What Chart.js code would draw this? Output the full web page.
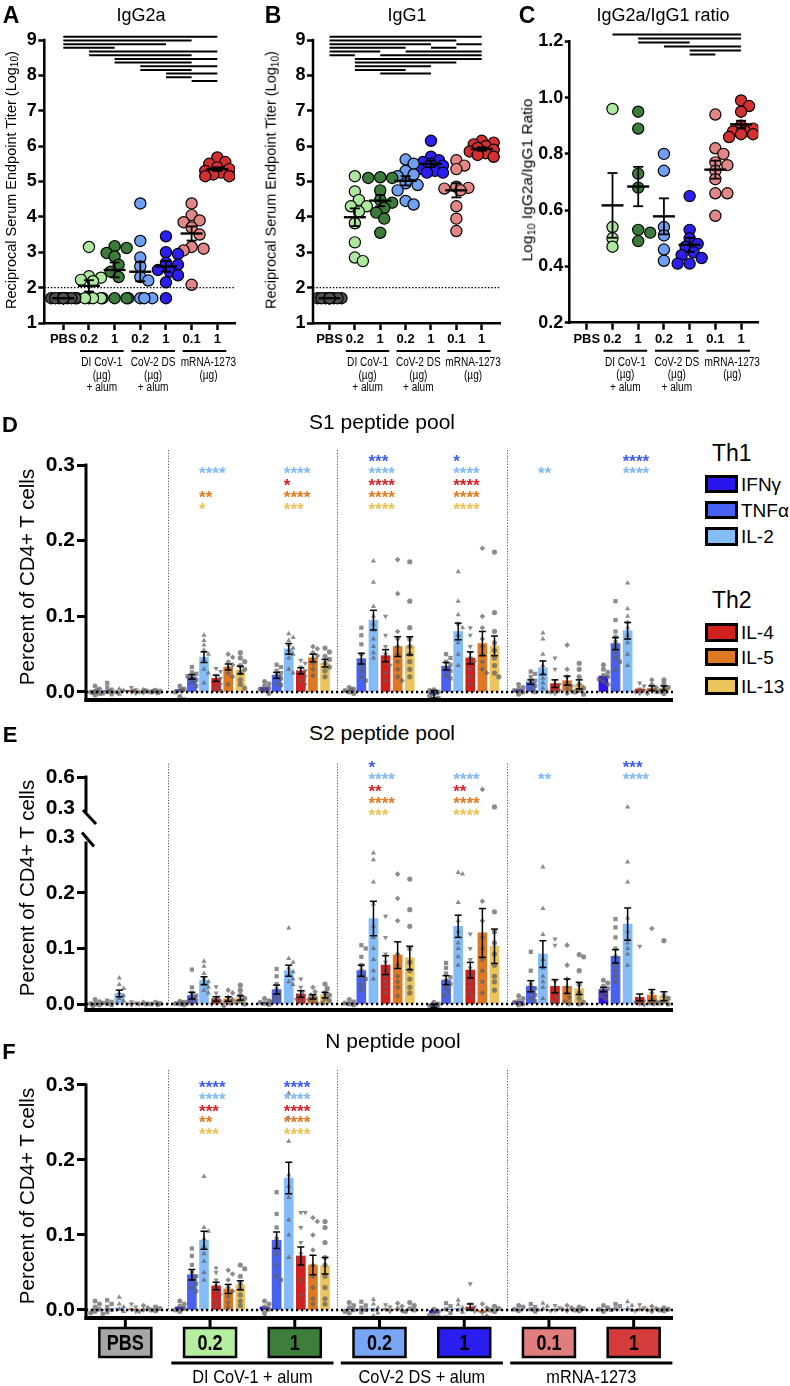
<!DOCTYPE html>
<html><head><meta charset="utf-8">
<script src="https://cdn.jsdelivr.net/npm/chart.js@4.4.0/dist/chart.umd.min.js"></script>
<style>
html,body{margin:0;padding:0;background:#fff}
#root{position:relative;width:790px;height:1386px;overflow:hidden;font-family:"Liberation Sans",Arial,Helvetica,sans-serif;color:#000}
#root canvas{position:absolute}
.t{position:absolute;white-space:nowrap;transform:translate(-50%,-50%);line-height:1}
.l{position:absolute;white-space:nowrap;line-height:1}
.rot{position:absolute;white-space:nowrap;transform:translate(-50%,-50%) rotate(-90deg);line-height:1}
.lg{position:absolute;box-sizing:border-box;width:33px;border:3px solid #000}
sub{font-size:70%;vertical-align:-0.25em}
</style></head>
<body><div id="root">
<canvas id="cA" width="245" height="380" style="left:0;top:20px"></canvas>
<canvas id="cB" width="245" height="380" style="left:268px;top:20px"></canvas>
<canvas id="cC" width="270" height="385" style="left:520px;top:15px"></canvas>
<canvas id="cD" width="700" height="290" style="left:0;top:430px"></canvas>
<canvas id="cEu" width="700" height="89" style="left:0;top:745px"></canvas>
<canvas id="cEl" width="700" height="215" style="left:0;top:815px"></canvas>
<canvas id="cF" width="700" height="336" style="left:0;top:1050px"></canvas>

<div class="t" style="left:11px;top:15px;font-size:23px;font-weight:bold">A</div>
<div class="t" style="left:141px;top:15px;font-size:18px">IgG2a</div>
<div class="t" style="left:273px;top:15px;font-size:23px;font-weight:bold">B</div>
<div class="t" style="left:407px;top:15px;font-size:18px">IgG1</div>
<div class="t" style="left:527px;top:15px;font-size:23px;font-weight:bold">C</div>
<div class="t" style="left:663px;top:15px;font-size:18px">IgG2a/IgG1 ratio</div>
<div class="rot" style="left:12px;top:180px;font-size:14.5px">Reciprocal Serum Endpoint Titer (Log<sub>10</sub>)</div>
<div class="rot" style="left:272px;top:180px;font-size:14.5px">Reciprocal Serum Endpoint Titer (Log<sub>10</sub>)</div>
<div class="rot" style="left:528px;top:180px;font-size:15.5px">Log<sub>10</sub> IgG2a/IgG1 Ratio</div>

<div class="t" style="left:10px;top:425px;font-size:22px;font-weight:bold">D</div>
<div class="t" style="left:382px;top:421px;font-size:21px">S1 peptide pool</div>
<div class="rot" style="left:27px;top:577px;font-size:20.5px">Percent of CD4+ T cells</div>
<div class="t" style="left:10px;top:735px;font-size:22px;font-weight:bold">E</div>
<div class="t" style="left:382px;top:732px;font-size:21px">S2 peptide pool</div>
<div class="rot" style="left:27px;top:888px;font-size:20.5px">Percent of CD4+ T cells</div>
<div class="t" style="left:9px;top:1052px;font-size:22px;font-weight:bold">F</div>
<div class="t" style="left:393px;top:1040px;font-size:21px">N peptide pool</div>
<div class="rot" style="left:27px;top:1196px;font-size:20.5px">Percent of CD4+ T cells</div>

<div class="l" style="left:712px;top:442px;font-size:23px">Th1</div>
<div class="lg" style="left:705px;top:475px;height:18px;background:#2b15ee"></div>
<div class="l" style="left:741px;top:474.5px;font-size:19px">IFNγ</div>
<div class="lg" style="left:705px;top:501px;height:18px;background:#4961f1"></div>
<div class="l" style="left:741px;top:500.5px;font-size:19px">TNFα</div>
<div class="lg" style="left:705px;top:527px;height:19px;background:#84bcf8"></div>
<div class="l" style="left:741px;top:527px;font-size:19px">IL-2</div>
<div class="l" style="left:712px;top:589px;font-size:23px">Th2</div>
<div class="lg" style="left:705px;top:623px;height:19px;background:#d0211f"></div>
<div class="l" style="left:741px;top:623px;font-size:19px">IL-4</div>
<div class="lg" style="left:705px;top:648px;height:18px;background:#df7823"></div>
<div class="l" style="left:741px;top:647.5px;font-size:19px">IL-5</div>
<div class="lg" style="left:705px;top:677px;height:18px;background:#ebc45d"></div>
<div class="l" style="left:741px;top:676.5px;font-size:19px">IL-13</div>
</div>
<script>
// ---------------- data ----------------
const groups = ['PBS','0.2','1','0.2','1','0.1','1'];
const groupPointColors = ['#505050','#aee89e','#3c7b3a','#6e9ff2','#2b1ff0','#e28686','#d43030'];
const groupBoxColors = ['#a6a6a6','#b5ee9e','#3e7e3b','#79a5f5','#2a1df0','#e07d7d','#d63b3b'];
const vaccineShort = [['DI CoV-1','(µg)','+ alum'],['CoV-2 DS','(µg)','+ alum'],['mRNA-1273','(µg)']];
const vaccineLong = ['DI CoV-1 + alum','CoV-2 DS + alum','mRNA-1273'];
const cytokines = ['IFNγ','TNFα','IL-2','IL-4','IL-5','IL-13'];
const cytoColors = ['#2b15ee','#4961f1','#84bcf8','#d0211f','#df7823','#ebc45d'];
const starColors = ['#3f5cf0','#80b9f8','#d4232a','#e07a22','#ebc25a'];

const titerTicks = [1,2,3,4,5,6,7,8,9];
const ratioTicks = [0.2,0.4,0.6,0.8,1.0,1.2];
const pctTicks = [0,0.1,0.2,0.3];
const brokenTicks = [0.3,0.6];

const igg2aPts = [
 [1.7,1.7,1.7,1.7,1.7,1.7,1.7,1.7,1.7,1.7],
 [3.15,2.32,2.28,2.22,2.18,1.7,1.7,1.7,1.7,1.7],
 [3.17,3.12,2.98,2.88,2.65,2.45,2.3,1.7,1.7,1.7],
 [4.38,3.32,2.85,2.6,2.3,2.2,1.7,1.7,1.7,1.7],
 [3.45,3.0,2.95,2.7,2.65,2.5,2.45,2.35,2.15,1.7],
 [4.38,4.05,3.9,3.85,3.7,3.5,3.15,3.1,3.05,2.08],
 [5.68,5.55,5.5,5.4,5.35,5.3,5.25,5.2,5.15,5.15]];
const igg2aMean = [1.7,2.05,2.5,2.45,2.6,3.53,5.35];
const igg2aSem = [0,0.16,0.21,0.27,0.15,0.2,0.05];
const igg2aSig = [[[0,6]],[[0,5]],[[0,4]],[[0,2]],[[1,6]],[[1,5]],[[2,6]],[[2,5]],[[3,6]],[[3,5]],[[4,6]],[[4,5]],[[5,6]]];

const igg1Pts = [
 [1.7,1.7,1.7,1.7,1.7,1.7,1.7,1.7,1.7,1.7],
 [5.15,4.72,4.48,4.3,4.3,4.15,3.82,3.28,2.85,2.75],
 [5.12,5.1,5.1,4.75,4.48,4.4,4.25,4.12,3.95,3.55],
 [5.62,5.5,5.3,5.2,5.15,4.95,4.9,4.75,4.45,4.35],
 [6.15,5.7,5.6,5.55,5.5,5.45,5.35,5.3,5.25,5.25],
 [5.6,5.45,5.35,4.85,4.82,4.8,4.75,4.3,3.95,3.6],
 [6.15,6.1,6.05,6.0,5.95,5.9,5.85,5.8,5.75,5.7]];
const igg1Mean = [1.7,3.99,4.46,5.02,5.5,4.75,5.92];
const igg1Sem = [0,0.25,0.16,0.13,0.09,0.2,0.05];
const igg1Sig = [[[0,6]],[[0,5]],[[0,4],[5,6]],[[0,3],[4,5]],[[0,2],[3,6]],[[0,1],[2,6]],[[1,6]],[[1,5]],[[1,4]],[[1,3]],[[2,4]]];

const ratioPts = [
 [],
 [0.96,0.54,0.50,0.47],
 [0.95,0.89,0.73,0.68,0.53,0.52,0.49],
 [0.80,0.74,0.54,0.51,0.46,0.42],
 [0.65,0.53,0.50,0.48,0.47,0.45,0.44,0.43,0.41,0.41],
 [0.94,0.82,0.80,0.77,0.76,0.74,0.71,0.66,0.66,0.58],
 [0.99,0.97,0.95,0.90,0.89,0.88,0.88,0.87,0.87,0.86]];
const ratioMean = [null,0.617,0.684,0.578,0.477,0.744,0.905];
const ratioSem = [null,0.115,0.07,0.064,0.025,0.032,0.013];
const ratioSig = [[[1,6]],[[2,6]],[[2,4]],[[3,6]],[[4,6]],[[4,5]]];

// S1 (D): order per group: IFNγ, TNFα, IL-2, IL-4, IL-5, IL-13
const s1Mean = [
 0.001,0.002,0.001,0.002,0.001,0.001,
 0.003,0.020,0.046,0.018,0.033,0.029,
 0.006,0.022,0.057,0.028,0.045,0.038,
 0.002,0.044,0.095,0.048,0.060,0.061,
 -0.003,0.034,0.080,0.045,0.064,0.061,
 0.003,0.013,0.032,0.011,0.015,0.010,
 0.021,0.064,0.081,0.004,0.005,0.005];
const s1Sem = [
 0.001,0.001,0.001,0.001,0.001,0.001,
 0.001,0.003,0.007,0.004,0.004,0.005,
 0.002,0.004,0.007,0.004,0.005,0.005,
 0.001,0.007,0.013,0.008,0.013,0.012,
 0.005,0.005,0.011,0.008,0.016,0.013,
 0.002,0.003,0.009,0.005,0.006,0.006,
 0.002,0.008,0.011,0.002,0.003,0.003];
const s1Pts = [
 [0.008,0.004,0.001,0,-0.002,-0.004,0.002,-0.001],[0.012,0.006,0.003,0,-0.002,-0.003,0.001],[0.004,0.002,0,-0.003,0.001,-0.001],[0.006,0.003,0.001,0,-0.002,0.002],[0.003,0.001,0,-0.001,0.002],[0.002,0.001,0,-0.001,0.001],
 [0.008,0.004,0.002,0,-0.006,-0.01,0.003],[0.033,0.026,0.024,0.021,0.019,0.016,0.013,0.008],[0.075,0.068,0.062,0.055,0.05,0.043,0.03,0.025,0.012],[0.031,0.027,0.022,0.018,0.014,0.01,0.005,0.002],[0.05,0.046,0.04,0.036,0.032,0.025,0.02,0.01],[0.052,0.045,0.04,0.035,0.03,0.025,0.016,0.01,0.005],
 [0.014,0.011,0.008,0.005,0.002,-0.002,0.004],[0.036,0.033,0.028,0.025,0.022,0.018,0.012,0.009],[0.077,0.072,0.068,0.062,0.058,0.055,0.05,0.045,0.03,0.025],[0.042,0.038,0.033,0.028,0.025,0.02,0.015,0.01],[0.06,0.057,0.052,0.048,0.044,0.038,0.03,0.022],[0.058,0.053,0.047,0.043,0.038,0.033,0.028,0.02],
 [0.006,0.004,0.002,0,-0.002,0.003],[0.085,0.075,0.063,0.05,0.042,0.035,0.028,0.02,0.015],[0.173,0.145,0.113,0.1,0.09,0.082,0.07,0.06,0.052,0.045],[0.1,0.075,0.06,0.05,0.04,0.035,0.025,0.015],[0.175,0.13,0.08,0.07,0.06,0.05,0.04,0.03,0.02,0.015],[0.172,0.12,0.085,0.07,0.06,0.05,0.04,0.03,0.02],
 [0.003,0,-0.003,-0.005,-0.008,-0.01,0.002],[0.05,0.045,0.04,0.036,0.032,0.028,0.022,0.018],[0.159,0.12,0.102,0.09,0.085,0.075,0.065,0.05,0.035],[0.085,0.075,0.06,0.052,0.045,0.04,0.03,0.02,0.01],[0.19,0.1,0.085,0.07,0.06,0.05,0.04,0.03,0.025],[0.185,0.105,0.08,0.065,0.055,0.045,0.035,0.025,0.02],
 [0.01,0.006,0.004,0.002,0,-0.003],[0.027,0.024,0.02,0.015,0.012,0.008,0.004,0],[0.078,0.07,0.05,0.035,0.025,0.018,0.012,0.005,0],[0.045,0.03,0.015,0.01,0.005,0.002,0,-0.002],[0.062,0.03,0.02,0.012,0.008,0.005,0.002,-0.002],[0.038,0.03,0.02,0.01,0.005,0.002,0,-0.003],
 [0.036,0.03,0.026,0.022,0.02,0.017,0.014,0.01],[0.12,0.095,0.08,0.073,0.066,0.06,0.052,0.045,0.04,0.03],[0.144,0.11,0.1,0.092,0.085,0.075,0.065,0.05,0.035],[0.012,0.008,0.004,0.002,0,-0.002],[0.016,0.01,0.006,0.003,0,-0.002],[0.016,0.01,0.006,0.004,0.001,-0.002]];
const s1Stars = [[1,1,'****'],[1,3,'**'],[1,4,'*'],[2,1,'****'],[2,2,'*'],[2,3,'****'],[2,4,'***'],[3,0,'***'],[3,1,'****'],[3,2,'****'],[3,3,'****'],[3,4,'****'],[4,0,'*'],[4,1,'****'],[4,2,'****'],[4,3,'****'],[4,4,'****'],[5,1,'**'],[6,0,'****'],[6,1,'****']];

// S2 (E)
const s2Mean = [
 0.001,0.001,0.019,0.001,0.001,0.001,
 0.002,0.015,0.042,0.009,0.009,0.011,
 0.003,0.026,0.060,0.018,0.013,0.016,
 0.002,0.060,0.154,0.070,0.088,0.083,
 -0.003,0.043,0.140,0.061,0.128,0.104,
 0.005,0.032,0.090,0.032,0.032,0.028,
 0.026,0.086,0.144,0.012,0.016,0.014];
const s2Sem = [
 0.001,0.001,0.006,0.001,0.001,0.001,
 0.001,0.006,0.007,0.004,0.004,0.004,
 0.001,0.008,0.010,0.006,0.004,0.005,
 0.002,0.010,0.031,0.017,0.024,0.021,
 0.003,0.008,0.020,0.014,0.044,0.031,
 0.002,0.010,0.024,0.012,0.013,0.011,
 0.004,0.012,0.029,0.006,0.010,0.008];
const s2Pts = [
 [0.008,0.004,0.001,0,-0.002,-0.003],[0.006,0.004,0.002,0,-0.002],[0.047,0.035,0.028,0.02,0.015,0.01,0.006,0.002],[0.004,0.002,0,-0.002],[0.003,0.001,0,-0.001],[0.003,0.001,0,-0.001],
 [0.005,0.003,0.001,0,-0.002,0.002],[0.062,0.03,0.02,0.015,0.01,0.006,0.003,0.001],[0.077,0.068,0.055,0.045,0.04,0.035,0.03,0.025,0.02],[0.031,0.02,0.012,0.008,0.004,0.002,0],[0.025,0.02,0.012,0.008,0.004,0.001,-0.004],[0.034,0.025,0.016,0.01,0.006,0.003,0],
 [0.01,0.006,0.003,0.001,-0.001],[0.063,0.05,0.036,0.026,0.018,0.012,0.008,0.004],[0.137,0.082,0.075,0.065,0.058,0.052,0.045,0.04,0.035],[0.045,0.03,0.022,0.016,0.012,0.008,0.004],[0.03,0.022,0.016,0.012,0.008,0.004,0.001],[0.036,0.028,0.02,0.016,0.01,0.006,0.002],
 [0.008,0.004,0.002,0,-0.002],[0.106,0.1,0.085,0.07,0.06,0.05,0.045,0.035,0.025],[0.272,0.26,0.22,0.18,0.14,0.12,0.1,0.08,0.06,0.045],[0.158,0.12,0.09,0.075,0.06,0.05,0.04,0.03,0.02],[0.234,0.19,0.15,0.09,0.07,0.05,0.04,0.03,0.015],[0.225,0.17,0.14,0.1,0.075,0.06,0.045,0.03,0.02],
 [0.003,0,-0.003,-0.006,-0.008],[0.074,0.065,0.055,0.048,0.042,0.036,0.03,0.022,0.015],[0.237,0.234,0.183,0.15,0.13,0.11,0.1,0.085,0.07],[0.126,0.1,0.08,0.065,0.05,0.04,0.03,0.02,0.012],[0.48,0.185,0.15,0.12,0.1,0.08,0.06,0.04,0.02],[0.31,0.166,0.13,0.11,0.09,0.07,0.05,0.04,0.025],
 [0.015,0.01,0.006,0.003,0,-0.002],[0.094,0.06,0.035,0.028,0.022,0.016,0.01,0.005],[0.247,0.172,0.125,0.08,0.065,0.05,0.04,0.03,0.01],[0.117,0.106,0.04,0.03,0.02,0.012,0.005,0],[0.106,0.07,0.045,0.03,0.02,0.012,0.005,0],[0.089,0.085,0.06,0.035,0.02,0.01,0.003,0],
 [0.043,0.038,0.032,0.028,0.024,0.02,0.015,0.01],[0.153,0.138,0.12,0.1,0.085,0.07,0.06,0.05,0.04],[0.31,0.256,0.22,0.155,0.13,0.11,0.1,0.09,0.07],[0.104,0.01,0.005,0.003,0,-0.002],[0.136,0.02,0.01,0.005,0.002,0],[0.114,0.015,0.01,0.005,0.002,0]];
const s2Stars = [[3,0,'*'],[3,1,'****'],[3,2,'**'],[3,3,'****'],[3,4,'***'],[4,1,'****'],[4,2,'**'],[4,3,'****'],[4,4,'****'],[5,1,'**'],[6,0,'***'],[6,1,'****']];

// N (F)
const nMean = [
 0.001,0.001,0.003,0.001,0.001,0.001,
 0.004,0.047,0.093,0.032,0.028,0.033,
 0.004,0.093,0.176,0.072,0.060,0.059,
 0.001,0.001,0.002,0.001,0.001,0.001,
 -0.004,0.001,0.002,0.004,-0.003,0.001,
 0.001,0.001,0.001,0.001,0.001,0.001,
 0.001,0.001,0.002,0.001,0.001,0.001];
const nSem = [
 0.001,0.001,0.002,0.001,0.001,0.001,
 0.002,0.007,0.012,0.005,0.006,0.006,
 0.002,0.011,0.021,0.012,0.013,0.011,
 0.001,0.001,0.002,0.001,0.001,0.001,
 0.002,0.002,0.002,0.004,0.002,0.001,
 0.001,0.001,0.001,0.001,0.001,0.001,
 0.001,0.001,0.001,0.001,0.001,0.001];
const nPts = [
 [0.012,0.008,0.004,0.001,-0.002,-0.004],[0.013,0.008,0.004,0,-0.003,-0.005],[0.017,0.008,0.004,0.001,-0.002],[0.008,0.004,0.001,-0.002],[0.006,0.003,0,-0.002],[0.004,0.002,0,-0.001],
 [0.012,0.008,0.005,0.002,0,-0.002],[0.082,0.072,0.06,0.05,0.045,0.04,0.035,0.03,0.025],[0.178,0.11,0.105,0.095,0.085,0.075,0.065,0.05,0.04],[0.056,0.05,0.04,0.032,0.025,0.02,0.012,0.005],[0.053,0.048,0.04,0.03,0.025,0.018,0.01,0.004],[0.06,0.055,0.045,0.035,0.028,0.02,0.012,0.006],
 [0.012,0.008,0.004,0.001,-0.004,-0.01],[0.157,0.128,0.11,0.095,0.085,0.075,0.06,0.045,0.04],[0.289,0.256,0.225,0.18,0.165,0.15,0.12,0.1,0.07],[0.13,0.13,0.11,0.09,0.075,0.06,0.04,0.02],[0.123,0.118,0.1,0.08,0.06,0.045,0.03,0.015,0.008],[0.118,0.11,0.09,0.07,0.06,0.045,0.03,0.015,0.008],
 [0.01,0.006,0.003,0,-0.002,-0.004],[0.011,0.006,0.003,0,-0.003],[0.014,0.008,0.003,0,-0.004,-0.008],[0.007,0.004,0.001,-0.002],[0.009,0.005,0.002,-0.001],[0.01,0.006,0.002,0,-0.002],
 [0.001,-0.002,-0.005,-0.007,-0.009],[0.009,0.005,0.001,-0.004,-0.01],[0.013,0.007,0.003,0,-0.003],[0.035,0.008,0.004,0.001,-0.002],[0.008,0.003,-0.003,-0.008,-0.01],[0.005,0.002,0,-0.002],
 [0.006,0.004,0.001,-0.001],[0.008,0.004,0.001,-0.002],[0.009,0.005,0.002,0],[0.006,0.003,0,-0.001],[0.006,0.003,0.001,-0.001],[0.004,0.002,0,-0.001],
 [0.006,0.003,0.001,-0.002],[0.008,0.005,0.002,0],[0.011,0.006,0.002,0],[0.007,0.003,0.001,-0.001],[0.005,0.002,0,-0.002],[0.003,0.001,0,-0.001]];
const nStars = [[1,0,'****'],[1,1,'****'],[1,2,'***'],[1,3,'**'],[1,4,'***'],[2,0,'****'],[2,1,'****'],[2,2,'****'],[2,3,'****'],[2,4,'****']];

// ---------------- helpers ----------------
Chart.defaults.font.family = '"Liberation Sans", Arial, sans-serif';
Chart.defaults.color = '#000';
const SANS = '"Liberation Sans", Arial, sans-serif';
const PX_SLOT = 587 / 48.5;
const SEP_SLOTS = [6, 20, 34];
const slotOf = i => Math.floor(i / 6) * 7 + (i % 6);
const ptStyles = ['circle','rect','triangle','triangle','rectRot','circle'];
const ptRadius = [2.5,3,3,3,2.8,2.6];

function seg(ctx, x1, y1, x2, y2){ ctx.beginPath(); ctx.moveTo(x1, y1); ctx.lineTo(x2, y2); ctx.stroke(); }
function narrowText(ctx, t, x, y, sx){ ctx.save(); ctx.translate(x, y); ctx.scale(sx, 1); ctx.fillText(t, 0, 0); ctx.restore(); }

function swarm(vals, pxY, step, minD, maxOff){
  const placed = [], out = [];
  vals.forEach(v => {
    const py = v * pxY; let best = 0, bestD = -1;
    for (let k = 0; ; k++){
      const c = k === 0 ? 0 : (k % 2 ? 1 : -1) * Math.ceil(k / 2) * step;
      if (Math.abs(c) > maxOff + 1e-9) break;
      let d = Infinity; placed.forEach(p => { d = Math.min(d, Math.hypot(p.x - c, p.y - py)); });
      if (d >= minD){ best = c; bestD = d; break; }
      if (d > bestD){ bestD = d; best = c; }
    }
    placed.push({x: best, y: py}); out.push(best);
  });
  return out;
}

// ---------------- scatter panels (A, B, C) ----------------
function scatterPanel(id, o){
  const datasets = [];
  o.pts.forEach((arr, gi) => {
    const offs = swarm(arr, o.pxY, 4, 8.5, 12);
    datasets.push({type:'scatter', data: arr.map((v, k) => ({x: gi + offs[k] / o.pxX, y: v})),
      backgroundColor: groupPointColors[gi], borderColor:'#000', borderWidth:1.2, pointRadius:5.6, order:2});
  });
  o.sig.forEach((row, r) => {
    const yv = o.sigTop - r * o.sigStep;
    row.forEach(([a, b]) => datasets.push({type:'line', data:[{x:a, y:yv},{x:b, y:yv}], borderColor:'#000', borderWidth:2, pointRadius:0, order:1}));
  });
  const deco = {
    id:'scDeco',
    afterDatasetsDraw(chart){
      const {ctx, chartArea:a, scales:{x, y}} = chart;
      ctx.save(); ctx.strokeStyle = '#000';
      if (o.cutoff != null){
        ctx.lineWidth = 1.3; ctx.setLineDash([1.5, 1.8]);
        const py = y.getPixelForValue(o.cutoff); seg(ctx, a.left, py, a.right, py); ctx.setLineDash([]);
      }
      o.mean.forEach((m, i) => {
        if (m == null) return;
        const px = x.getPixelForValue(i), pm = y.getPixelForValue(m);
        ctx.lineWidth = 2.4; seg(ctx, px - 11, pm, px + 11, pm);
        const s = o.sem[i];
        if (s > 0){
          const pt = y.getPixelForValue(m + s), pb = y.getPixelForValue(m - s);
          ctx.lineWidth = 1.8; seg(ctx, px, pt, px, pb); seg(ctx, px - 5, pt, px + 5, pt); seg(ctx, px - 5, pb, px + 5, pb);
        }
      });
      ctx.lineWidth = 2.5; seg(ctx, a.left, y.getPixelForValue(o.yTop) - 1.25, a.left, a.bottom + 1.25);
      ctx.restore();
    },
    afterDraw(chart){
      const {ctx, chartArea:a, scales:{x}} = chart;
      ctx.save(); ctx.strokeStyle = '#000'; ctx.fillStyle = '#000';
      vaccineShort.forEach((lines, k) => {
        const x1 = x.getPixelForValue(1 + 2 * k) - 9, x2 = x.getPixelForValue(2 + 2 * k) + 9;
        ctx.lineWidth = 2; seg(ctx, x1, a.bottom + 28, x2, a.bottom + 28);
        ctx.font = '12px ' + SANS; ctx.textAlign = 'center'; ctx.textBaseline = 'middle';
        lines.forEach((t, j) => narrowText(ctx, t, (x1 + x2) / 2 + (k === 2 ? 4 : 0), a.bottom + 40 + j * 12.3, 0.84));
      });
      ctx.restore();
    }
  };
  new Chart(document.getElementById(id), {
    type:'scatter', data:{datasets},
    options:{
      responsive:false, animation:false, devicePixelRatio:1, events:[],
      layout:{padding:o.padding},
      plugins:{legend:{display:false}, tooltip:{enabled:false}},
      scales:{
        x:{type:'linear', min:o.xMin, max:o.xMax, offset:false,
          afterBuildTicks: s => { s.ticks = groups.map((g, i) => ({value:i})); },
          ticks:{callback: v => groups[v], font:{size:13, weight:'bold'}, padding:2, maxRotation:0, autoSkip:false},
          grid:{drawOnChartArea:false, drawTicks:true, tickLength:7, tickWidth:2.5, tickColor:'#000'},
          border:{display:true, width:2.5, color:'#000'},
          afterFit: s => { s.height = o.xH; }},
        y:{type:'linear', min:o.yMin, max:o.yMax,
          afterBuildTicks: s => { s.ticks = o.yTicks.map(v => ({value:v})); },
          ticks:{callback: o.fmt, font:{size:18, weight:'bold'}, padding:1.5},
          grid:{drawOnChartArea:false, drawTicks:true, tickLength:o.tickLen, tickWidth:2.5, tickColor:'#000'},
          border:{display:false},
          afterFit: s => { s.width = o.yW; }}
      }
    },
    plugins:[deco]
  });
}

scatterPanel('cA', {pts:igg2aPts, mean:igg2aMean, sem:igg2aSem, sig:igg2aSig, sigTop:9.09, sigStep:0.104,
  yMin:1, yMax:9.15, yTicks:titerTicks, yTop:9, cutoff:2, xMin:-0.74, xMax:6.69, yW:44.3, xH:77, tickLen:6,
  padding:{top:14.7, right:10, bottom:0, left:0}, pxX:25.67, pxY:35.4, fmt: v => String(v)});
scatterPanel('cB', {pts:igg1Pts, mean:igg1Mean, sem:igg1Sem, sig:igg1Sig, sigTop:9.09, sigStep:0.104,
  yMin:1, yMax:9.15, yTicks:titerTicks, yTop:9, cutoff:2, xMin:-0.65, xMax:6.72, yW:45, xH:77, tickLen:6,
  padding:{top:14.7, right:13, bottom:0, left:0}, pxX:25.4, pxY:35.4, fmt: v => String(v)});
scatterPanel('cC', {pts:ratioPts, mean:ratioMean, sem:ratioSem, sig:ratioSig, sigTop:1.224, sigStep:0.0141,
  yMin:0.2, yMax:1.25, yTicks:ratioTicks, yTop:1.2, cutoff:null, xMin:-0.68, xMax:6.67, yW:49.3, xH:77.3, tickLen:4.5,
  padding:{top:9.8, right:31.7, bottom:0, left:0}, pxX:25.7, pxY:283.7, fmt: v => v.toFixed(1)});

// ---------------- bar panels (D, E, F) ----------------
function barPanel(id, o){
  const datasets = [];
  if (!o.upper){
    datasets.push({type:'bar', data:o.mean.map((m, i) => ({x:slotOf(i), y:m})),
      backgroundColor:o.mean.map((_, i) => cytoColors[i % 6]), barThickness:9, order:3});
  }
  for (let c = 0; c < 6; c++){
    const data = [];
    for (let g = 0; g < 7; g++){
      const i = g * 6 + c, arr = o.pts[i];
      const offs = swarm(arr, o.pxY, 2.2, 4.5, 4.5);
      arr.forEach((v, k) => { if (o.upper ? v > 0.3 : v <= 0.3) data.push({x:slotOf(i) + offs[k] / PX_SLOT, y:v}); });
    }
    datasets.push({type:'scatter', data, pointStyle:ptStyles[c], rotation:c === 3 ? 180 : 0, pointRadius:ptRadius[c],
      backgroundColor:'rgba(95,95,95,0.72)', borderWidth:0, order:2, clip:false});
  }
  const deco = {
    id:'barDeco',
    afterDatasetsDraw(chart){
      const {ctx, chartArea:a, scales:{x, y}} = chart;
      ctx.save(); ctx.strokeStyle = '#000';
      if (!o.upper){
        o.mean.forEach((m, i) => {
          const s = o.sem[i]; if (!s || s < 0.0025) return;
          const px = x.getPixelForValue(slotOf(i)), t = y.getPixelForValue(m + s), b = y.getPixelForValue(m - s);
          ctx.lineWidth = 1.5; seg(ctx, px, t, px, b); seg(ctx, px - 3.5, t, px + 3.5, t); seg(ctx, px - 3.5, b, px + 3.5, b);
        });
      }
      ctx.strokeStyle = '#555'; ctx.lineWidth = 1; ctx.setLineDash([1.2, 1.6]);
      const sb = o.upper ? a.bottom + 26 : y.getPixelForValue(0);
      SEP_SLOTS.forEach(sv => { const px = Math.round(x.getPixelForValue(sv)) + 0.5; seg(ctx, px, a.top, px, sb); });
      ctx.setLineDash([]); ctx.strokeStyle = '#000';
      const L = a.left;
      if (!o.upper){
        const p0 = y.getPixelForValue(0);
        ctx.lineWidth = 2.5; ctx.setLineDash([2.2, 2.8]); seg(ctx, L, p0, a.right, p0); ctx.setLineDash([]);
        ctx.lineWidth = 4; seg(ctx, L - 1.5, a.bottom, a.right, a.bottom);
      }
      ctx.lineWidth = 3;
      if (o.upper){
        const y6 = y.getPixelForValue(0.6), y3 = y.getPixelForValue(0.3);
        seg(ctx, L, y6 - 1.5, L, y3 + 4); seg(ctx, L - 3, y3 + 2, L + 10, y3 + 16);
      } else if (o.broken){
        const y3 = y.getPixelForValue(0.3);
        seg(ctx, L, y3 + 4, L, a.bottom + 2); seg(ctx, L - 4, y3 - 5, L + 8, y3 + 9);
      } else {
        seg(ctx, L, y.getPixelForValue(0.3) - 1.5, L, a.bottom + 2);
      }
      if (o.stars){
        ctx.font = 'bold 17px ' + SANS; ctx.textAlign = 'left'; ctx.textBaseline = 'alphabetic';
        o.stars.forEach(([g, r, s]) => {
          ctx.fillStyle = starColors[r];
          ctx.fillText(s, x.getPixelForValue(g * 7 + 2.5) - 11, a.top + o.starTop + r * o.starStep + 10);
        });
      }
      ctx.restore();
    },
    afterDraw(chart){
      if (!o.bottomLabels) return;
      const {ctx, chartArea:a, scales:{x}} = chart;
      ctx.save(); ctx.strokeStyle = '#000';
      groups.forEach((g, gi) => {
        const px = x.getPixelForValue(gi * 7 + 2.5);
        ctx.lineWidth = 3; seg(ctx, px, a.bottom, px, a.bottom + 11);
        ctx.fillStyle = groupBoxColors[gi]; ctx.fillRect(px - 26, a.bottom + 10, 52, 29);
        ctx.lineWidth = 2.5; ctx.strokeRect(px - 26, a.bottom + 10, 52, 29);
        ctx.fillStyle = '#000'; ctx.font = 'bold 22px ' + SANS; ctx.textAlign = 'center'; ctx.textBaseline = 'middle';
        narrowText(ctx, g, px, a.bottom + 25.5, 0.82);
      });
      vaccineLong.forEach((t, k) => {
        const x1 = x.getPixelForValue(7 + 14 * k - 0.7), x2 = x.getPixelForValue(19 + 14 * k + 0.7);
        ctx.lineWidth = 3; seg(ctx, x1, a.bottom + 45, x2, a.bottom + 45);
        ctx.fillStyle = '#000'; ctx.font = '19px ' + SANS; ctx.textAlign = 'center'; ctx.textBaseline = 'middle';
        narrowText(ctx, t, (x1 + x2) / 2, a.bottom + 60, 0.86);
      });
      ctx.restore();
    }
  };
  const hide = o.hideTicks || [];
  new Chart(document.getElementById(id), {
    type:'bar', data:{datasets},
    options:{
      responsive:false, animation:false, devicePixelRatio:1, events:[],
      layout:{padding:o.padding},
      plugins:{legend:{display:false}, tooltip:{enabled:false}},
      scales:{
        x:{type:'linear', display:false, offset:false, min:-0.75, max:47.75},
        y:{type:'linear', min:o.yMin, max:o.yMax,
          afterBuildTicks: s => { s.ticks = o.yTicks.map(v => ({value:v})); },
          ticks:{callback: v => v.toFixed(1), font:{size:21, weight:'bold'}, padding:2},
          grid:{drawOnChartArea:false, drawTicks:true, tickLength:9, tickWidth:3,
            tickColor: c => (c.tick && hide.includes(c.tick.value)) ? 'rgba(0,0,0,0)' : '#000'},
          border:{display:false},
          afterFit: s => { s.width = 86; }}
      }
    },
    plugins:[deco]
  });
}

barPanel('cD', {mean:s1Mean, sem:s1Sem, pts:s1Pts, stars:s1Stars, starTop:7, starStep:12,
  yMin:-0.0106, yMax:0.32, yTicks:pctTicks, pxY:756.5, padding:{top:19.9, right:27, bottom:20, left:0}});
barPanel('cEu', {upper:true, mean:s2Mean, sem:s2Sem, pts:s2Pts, stars:s2Stars, starTop:-0.6, starStep:12,
  yMin:0.3, yMax:0.73, yTicks:brokenTicks, hideTicks:[0.3], pxY:103.3, padding:{top:18.6, right:27, bottom:26, left:0}});
barPanel('cEl', {broken:true, mean:s2Mean, sem:s2Sem, pts:s2Pts,
  yMin:-0.0108, yMax:0.305, yTicks:pctTicks, hideTicks:[0.3], pxY:555, padding:{top:19.7, right:27, bottom:20, left:0}});
barPanel('cF', {mean:nMean, sem:nSem, pts:nPts, stars:nStars, starTop:13, starStep:11.8, bottomLabels:true,
  yMin:-0.0107, yMax:0.32, yTicks:pctTicks, pxY:750, padding:{top:20, right:27, bottom:68, left:0}});
</script>
</body></html>
